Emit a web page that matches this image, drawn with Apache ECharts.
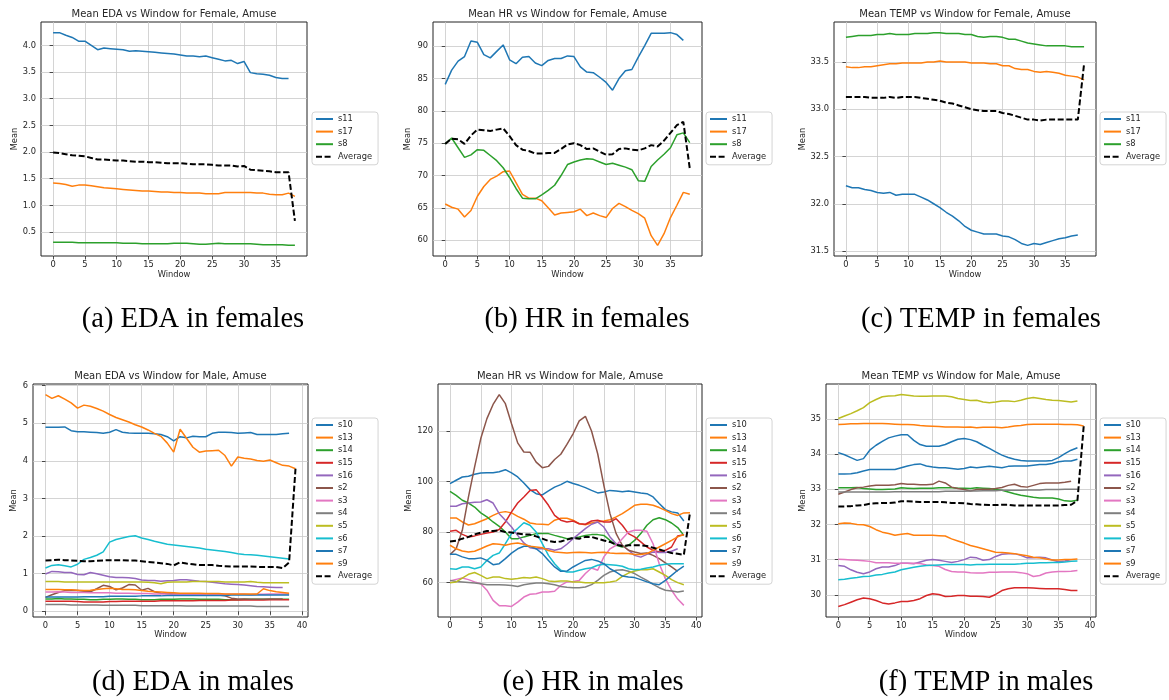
<!DOCTYPE html>
<html>
<head>
<meta charset="utf-8">
<title>Mean signal per window, Amuse condition</title>
<script src="https://cdn.jsdelivr.net/npm/echarts@6.0.0/dist/echarts.min.js"></script>
<style>
  html, body { margin: 0; padding: 0; background: #ffffff; }
  #chart { width: 1169px; height: 700px; }
</style>
</head>
<body>
<div id="chart"></div>
<script>
// ---------------- Subjects ----------------
const femaleNames = ['s11', 's17', 's8'];
const maleNames = ['s10', 's13', 's14', 's15', 's16', 's2', 's3', 's4', 's5', 's6', 's7', 's9'];

// ---------------- Female, EDA ----------------
const edaF_s11 = [4.24,4.24,4.19,4.15,4.08,4.08,4.00,3.92,3.95,3.94,3.93,3.92,3.89,3.90,3.89,3.88,3.87,3.86,3.85,3.84,3.82,3.80,3.80,3.79,3.80,3.77,3.74,3.71,3.72,3.66,3.70,3.49,3.47,3.46,3.44,3.40,3.38,3.38];
const edaF_s17 = [1.42,1.41,1.39,1.36,1.38,1.38,1.37,1.35,1.33,1.32,1.31,1.30,1.29,1.28,1.27,1.27,1.26,1.25,1.25,1.24,1.24,1.23,1.23,1.23,1.22,1.22,1.22,1.24,1.24,1.24,1.24,1.24,1.23,1.23,1.21,1.20,1.20,1.23,1.17];
const edaF_s8 = [0.31,0.31,0.31,0.31,0.30,0.30,0.30,0.30,0.30,0.30,0.30,0.29,0.29,0.29,0.28,0.28,0.28,0.28,0.28,0.29,0.29,0.29,0.28,0.27,0.27,0.28,0.29,0.28,0.28,0.28,0.28,0.28,0.27,0.26,0.26,0.26,0.26,0.25,0.25];
const edaF_avg = [1.99,1.98,1.96,1.94,1.93,1.92,1.89,1.86,1.86,1.85,1.84,1.84,1.83,1.82,1.82,1.81,1.81,1.80,1.79,1.79,1.79,1.78,1.77,1.77,1.77,1.76,1.75,1.75,1.75,1.73,1.74,1.67,1.66,1.65,1.64,1.62,1.62,1.62,0.71];

// ---------------- Female, HR ----------------
const hrF_s11 = [84.1,86.3,87.7,88.4,90.8,90.6,88.7,88.2,89.2,90.2,87.9,87.3,88.3,88.4,87.4,87.0,87.8,88.1,88.1,88.5,88.4,86.8,86.0,85.9,85.2,84.4,83.2,85.0,86.2,86.4,88.3,90.1,92.0,92.0,92.0,92.1,91.8,90.9];
const hrF_s17 = [65.6,65.1,64.8,63.6,64.6,66.8,68.3,69.4,69.9,70.6,70.7,68.9,67.1,66.5,66.5,66.1,65.0,63.9,64.2,64.3,64.4,64.8,63.8,64.2,63.8,63.5,64.9,65.7,65.2,64.6,64.1,63.4,60.7,59.2,61.0,63.5,65.4,67.4,67.1];
const hrF_s8 = [74.9,75.8,74.3,72.8,73.2,74.0,73.9,73.1,72.3,71.2,69.7,68.0,66.5,66.4,66.4,67.0,67.7,68.5,70.0,71.7,72.1,72.4,72.6,72.5,72.1,71.7,71.9,71.6,71.3,70.9,69.2,69.1,71.4,72.4,73.3,74.3,76.3,76.6,75.1];
const hrF_avg = [74.9,75.7,75.6,74.9,76.2,77.1,77.0,76.9,77.1,77.3,76.1,74.7,74.0,73.8,73.4,73.4,73.5,73.5,74.1,74.8,75.0,74.7,74.1,74.2,73.7,73.2,73.3,74.1,74.2,74.0,73.9,74.2,74.7,74.5,75.4,76.6,77.8,78.3,71.1];

// ---------------- Female, TEMP ----------------
const tempF_s11 = [32.19,32.17,32.17,32.15,32.14,32.12,32.11,32.12,32.09,32.10,32.10,32.10,32.07,32.04,32.00,31.96,31.91,31.87,31.82,31.76,31.72,31.70,31.68,31.68,31.68,31.66,31.65,31.62,31.58,31.56,31.58,31.57,31.59,31.61,31.63,31.64,31.66,31.67];
const tempF_s17 = [33.45,33.44,33.44,33.45,33.45,33.46,33.47,33.48,33.48,33.49,33.49,33.49,33.49,33.50,33.50,33.51,33.50,33.50,33.50,33.50,33.49,33.49,33.49,33.48,33.48,33.46,33.46,33.43,33.42,33.42,33.40,33.39,33.40,33.39,33.38,33.36,33.35,33.34,33.31];
const tempF_s8 = [33.76,33.77,33.78,33.78,33.78,33.79,33.79,33.80,33.79,33.79,33.79,33.80,33.80,33.80,33.81,33.81,33.80,33.80,33.80,33.79,33.79,33.77,33.76,33.77,33.77,33.76,33.74,33.74,33.72,33.70,33.69,33.68,33.67,33.67,33.67,33.67,33.66,33.66,33.66];
const tempF_avg = [33.13,33.13,33.13,33.13,33.12,33.12,33.12,33.13,33.12,33.13,33.13,33.13,33.12,33.11,33.10,33.09,33.07,33.06,33.04,33.02,33.00,32.99,32.98,32.98,32.98,32.96,32.95,32.93,32.91,32.89,32.89,32.88,32.89,32.89,32.89,32.89,32.89,32.89,33.48];

// ---------------- Male, EDA ----------------
const edaM_s10 = [4.89,4.89,4.89,4.90,4.80,4.77,4.77,4.76,4.75,4.73,4.76,4.83,4.76,4.74,4.73,4.73,4.73,4.72,4.70,4.64,4.53,4.64,4.61,4.65,4.64,4.64,4.73,4.76,4.76,4.75,4.73,4.74,4.75,4.70,4.70,4.70,4.70,4.72,4.73];
const edaM_s13 = [5.76,5.66,5.73,5.64,5.54,5.40,5.48,5.45,5.39,5.32,5.23,5.15,5.09,5.03,4.96,4.90,4.82,4.73,4.65,4.47,4.23,4.84,4.60,4.36,4.23,4.26,4.27,4.28,4.14,3.86,4.10,4.07,4.05,4.01,3.99,4.02,3.95,3.88,3.86,3.79];
const edaM_s14 = [0.33,0.33,0.34,0.33,0.33,0.32,0.32,0.31,0.31,0.32,0.32,0.33,0.33,0.32,0.32,0.31,0.31,0.31,0.32,0.32,0.32,0.33,0.33,0.33,0.32,0.32,0.32,0.32,0.31,0.31,0.31,0.32,0.32,0.32,0.32,0.32,0.32,0.32,0.32];
const edaM_s15 = [0.27,0.27,0.27,0.27,0.27,0.26,0.25,0.25,0.25,0.25,0.26,0.26,0.27,0.27,0.27,0.27,0.27,0.27,0.28,0.28,0.28,0.28,0.28,0.28,0.29,0.29,0.29,0.29,0.29,0.30,0.30,0.30,0.30,0.30,0.30,0.31,0.31,0.31,0.31];
const edaM_s16 = [0.99,1.06,1.05,1.03,1.03,0.98,0.97,1.03,1.00,0.96,0.92,0.90,0.90,0.89,0.87,0.83,0.82,0.82,0.80,0.81,0.82,0.84,0.84,0.82,0.80,0.79,0.77,0.75,0.73,0.72,0.71,0.70,0.68,0.66,0.65,0.64,0.63,0.63];
const edaM_s2 = [0.37,0.44,0.50,0.55,0.56,0.55,0.53,0.52,0.60,0.69,0.66,0.57,0.62,0.71,0.70,0.56,0.61,0.52,0.48,0.47,0.46,0.46,0.46,0.45,0.45,0.45,0.44,0.43,0.41,0.35,0.33,0.33,0.32,0.32,0.32,0.33,0.33,0.33];
const edaM_s3 = [0.51,0.51,0.52,0.51,0.50,0.50,0.50,0.49,0.49,0.49,0.49,0.48,0.48,0.48,0.47,0.47,0.47,0.46,0.46,0.46,0.45,0.45,0.45,0.46,0.45,0.45,0.44,0.45,0.45,0.45,0.45,0.45,0.44,0.45,0.45,0.46,0.46,0.46,0.46];
const edaM_s4 = [0.18,0.18,0.18,0.18,0.17,0.17,0.17,0.17,0.17,0.16,0.16,0.16,0.16,0.16,0.16,0.15,0.15,0.15,0.15,0.15,0.15,0.15,0.14,0.14,0.14,0.14,0.14,0.14,0.14,0.14,0.14,0.14,0.14,0.13,0.13,0.13,0.13,0.13,0.13];
const edaM_s5 = [0.79,0.79,0.79,0.78,0.78,0.78,0.78,0.78,0.78,0.78,0.78,0.78,0.78,0.78,0.78,0.78,0.77,0.76,0.73,0.77,0.78,0.78,0.78,0.79,0.79,0.79,0.79,0.79,0.78,0.78,0.78,0.78,0.79,0.77,0.76,0.76,0.76,0.76,0.76];
const edaM_s6 = [1.15,1.22,1.24,1.21,1.18,1.25,1.38,1.43,1.49,1.58,1.84,1.91,1.95,1.99,2.01,1.95,1.91,1.86,1.82,1.78,1.76,1.74,1.72,1.70,1.68,1.65,1.63,1.61,1.59,1.56,1.53,1.51,1.50,1.49,1.47,1.45,1.43,1.41,1.39];
const edaM_s7 = [0.38,0.38,0.38,0.38,0.38,0.38,0.39,0.39,0.39,0.39,0.40,0.40,0.40,0.40,0.40,0.41,0.41,0.41,0.41,0.42,0.42,0.42,0.42,0.42,0.42,0.42,0.42,0.42,0.42,0.43,0.43,0.43,0.43,0.43,0.43,0.43,0.43,0.43,0.43];
const edaM_s9 = [0.58,0.58,0.58,0.57,0.57,0.56,0.55,0.56,0.58,0.60,0.61,0.60,0.58,0.58,0.57,0.55,0.53,0.52,0.51,0.50,0.49,0.48,0.48,0.48,0.48,0.47,0.47,0.47,0.46,0.46,0.46,0.46,0.46,0.46,0.60,0.55,0.52,0.50,0.48];
const edaM_avg = [1.35,1.36,1.37,1.36,1.35,1.34,1.33,1.33,1.34,1.35,1.36,1.36,1.36,1.35,1.35,1.33,1.31,1.30,1.28,1.26,1.22,1.30,1.27,1.25,1.23,1.23,1.23,1.21,1.20,1.19,1.19,1.19,1.19,1.18,1.18,1.18,1.18,1.15,1.30,3.79];

// ---------------- Male, HR ----------------
const hrM_s10 = [99.2,100.5,101.8,102.1,102.9,103.4,103.5,103.5,103.9,104.7,103.4,101.8,99.4,96.8,95.2,94.7,96.3,97.8,98.8,100.1,99.2,98.5,97.6,96.5,95.5,95.9,96.5,96.3,96.0,96.3,95.9,95.5,95.2,93.9,91.3,88.9,88.0,87.6,84.4];
const hrM_s13 = [85.6,85.6,84.0,82.8,83.3,84.3,85.3,86.6,87.7,88.1,87.6,86.2,85.1,83.6,83.2,83.1,82.9,84.7,85.5,85.5,84.7,83.3,82.9,83.6,84.0,84.4,84.9,86.0,87.3,88.9,90.6,91.0,91.0,90.6,89.7,88.6,87.3,86.6,87.6,87.7];
const hrM_s14 = [96.1,94.5,92.6,91.5,89.9,87.6,86.0,84.0,82.3,80.0,77.4,77.4,78.1,78.7,79.4,79.4,79.4,78.7,78.1,77.4,77.7,78.1,78.7,79.0,79.0,78.7,76.7,74.8,74.1,74.8,76.7,79.4,82.7,84.9,85.7,84.9,83.6,81.8,78.7];
const hrM_s15 = [80.3,80.7,79.1,78.1,78.5,79.1,79.6,80.0,81.0,84.0,88.0,91.5,93.9,96.5,96.8,93.9,90.6,86.6,84.7,84.0,84.4,83.3,83.1,84.4,84.7,84.0,84.0,85.3,82.7,79.4,78.1,76.1,74.1,72.8,72.1,72.8,74.1,78.5,79.0];
const hrM_s16 = [90.2,90.2,91.2,91.5,91.8,91.9,92.8,91.5,87.3,84.7,82.0,78.7,75.7,73.8,73.4,73.4,73.4,72.8,73.4,75.2,77.4,79.4,81.4,83.1,84.0,82.0,78.1,75.4,74.8,72.8,70.8,70.1,71.2,72.1,71.9,71.9,72.4,73.4];
const hrM_s2 = [71.1,73.4,80.7,93.9,105.8,117.0,124.9,130.5,134.4,130.8,122.9,115.3,111.7,111.6,107.7,105.5,106.0,108.7,110.8,114.7,118.9,124.0,125.8,120.0,111.0,98.5,87.3,79.4,74.8,72.8,72.1,71.5,71.7,70.8,69.5,67.8,66.2,64.5];
const hrM_s3 = [60.7,61.3,61.8,61.2,60.3,59.6,57.0,53.0,50.9,50.9,50.6,52.3,54.3,55.4,55.6,56.3,56.3,56.6,58.9,60.3,60.5,60.9,63.6,65.8,64.9,70.2,73.4,74.8,77.4,80.0,80.7,80.7,80.3,75.4,67.5,61.6,57.0,53.5,51.0];
const hrM_s4 = [60.9,60.5,60.3,60.1,59.9,59.6,59.2,59.2,59.2,59.1,58.9,58.5,59.2,59.6,59.9,59.9,59.6,59.2,58.5,58.2,58.0,58.0,58.3,59.2,60.9,62.9,64.2,64.9,65.1,64.5,63.6,62.2,60.9,59.3,58.0,57.0,56.7,56.3,56.7];
const hrM_s5 = [60.0,60.3,61.8,63.3,64.0,62.9,61.6,62.2,62.2,61.6,61.3,61.6,62.0,61.8,62.2,61.6,60.7,60.5,60.7,60.7,60.3,60.3,60.0,60.0,60.0,60.0,60.3,60.7,62.5,63.8,64.6,65.1,65.1,65.5,64.2,62.9,61.2,60.0,59.2];
const hrM_s6 = [65.5,65.3,66.2,66.2,65.5,66.2,68.8,70.8,71.7,75.4,79.4,81.4,83.7,82.7,80.0,75.4,70.8,67.5,64.9,64.2,64.2,64.9,65.5,65.9,66.9,67.3,67.1,66.9,66.5,65.5,65.1,65.3,65.8,66.2,66.9,67.3,67.5,67.5,67.5];
const hrM_s7 = [71.2,71.2,70.2,69.5,69.5,69.8,68.8,67.1,67.5,69.5,71.7,73.4,74.4,74.4,73.4,71.5,68.8,66.2,64.5,64.6,66.2,67.5,68.8,69.2,68.6,67.5,65.5,64.2,62.6,62.2,62.0,61.2,60.3,59.6,59.2,60.9,62.9,64.9,66.5];
const hrM_s9 = [74.8,73.4,72.5,72.1,72.4,73.4,74.5,75.4,75.2,74.8,75.4,75.7,75.2,74.4,74.1,73.8,72.7,72.1,71.9,71.7,71.9,72.0,71.9,71.7,71.9,72.0,71.7,71.5,71.6,71.5,71.1,71.1,71.5,72.8,74.1,75.4,76.7,78.1,79.0];
const hrM_avg = [76.3,76.6,77.4,78.1,79.1,79.8,80.4,80.4,80.7,80.0,79.8,79.4,79.1,79.0,78.3,77.4,76.5,76.1,76.3,77.0,77.7,77.4,78.1,78.1,77.4,76.7,76.1,75.0,74.5,74.8,74.8,74.8,74.5,73.8,73.1,72.4,71.7,71.4,71.0,87.7];

// ---------------- Male, TEMP ----------------
const tempM_s10 = [34.04,33.98,33.90,33.82,33.87,34.11,34.25,34.36,34.46,34.51,34.55,34.55,34.39,34.27,34.22,34.22,34.22,34.27,34.35,34.42,34.44,34.41,34.35,34.25,34.16,34.06,33.97,33.90,33.85,33.82,33.80,33.80,33.80,33.80,33.82,33.90,34.01,34.11,34.18];
const tempM_s13 = [34.84,34.85,34.86,34.86,34.87,34.87,34.87,34.87,34.86,34.85,34.84,34.84,34.83,34.81,34.80,34.79,34.78,34.77,34.77,34.77,34.76,34.77,34.75,34.76,34.76,34.76,34.75,34.77,34.80,34.81,34.84,34.85,34.85,34.85,34.85,34.85,34.84,34.84,34.83,34.80];
const tempM_s14 = [33.04,33.04,33.04,33.05,33.02,33.01,32.99,32.99,33.00,33.01,33.04,33.03,33.02,33.03,33.03,33.03,33.04,33.04,33.04,33.03,33.03,33.02,33.04,33.03,33.02,32.99,32.97,32.92,32.87,32.83,32.80,32.77,32.75,32.75,32.75,32.72,32.67,32.66,32.69];
const tempM_s15 = [29.67,29.72,29.79,29.86,29.91,29.89,29.84,29.77,29.74,29.77,29.81,29.81,29.84,29.89,29.98,30.03,30.01,29.95,29.96,29.98,29.98,29.96,29.96,29.95,29.93,30.01,30.12,30.17,30.20,30.20,30.20,30.19,30.18,30.17,30.17,30.17,30.15,30.12,30.12];
const tempM_s16 = [30.83,30.81,30.71,30.64,30.60,30.65,30.74,30.79,30.79,30.83,30.90,30.90,30.88,30.93,30.98,31.00,30.98,30.95,30.92,30.95,31.00,31.07,31.05,30.98,31.00,31.09,31.15,31.17,31.17,31.12,31.05,31.05,31.07,31.05,30.99,30.94,30.96,31.00];
const tempM_s2 = [32.86,32.92,32.99,33.04,33.06,33.09,33.11,33.11,33.11,33.13,33.16,33.14,33.14,33.13,33.13,33.14,33.23,33.18,33.06,33.02,32.99,32.95,32.99,33.00,33.00,33.02,33.05,33.11,33.14,33.08,33.06,33.11,33.16,33.18,33.18,33.18,33.20,33.23];
const tempM_s3 = [31.01,31.00,30.99,30.98,30.97,30.95,30.91,30.91,30.91,30.90,30.90,30.90,30.90,30.89,30.85,30.83,30.81,30.72,30.66,30.65,30.65,30.63,30.62,30.62,30.64,30.64,30.65,30.65,30.65,30.63,30.60,30.52,30.55,30.62,30.65,30.66,30.66,30.67,30.69];
const tempM_s4 = [32.92,32.92,32.92,32.92,32.92,32.92,32.92,32.92,32.92,32.93,32.93,32.93,32.93,32.93,32.93,32.93,32.93,32.94,32.94,32.94,32.94,32.95,32.95,32.96,32.96,32.96,32.97,32.97,32.97,32.97,32.98,32.98,32.98,32.99,32.99,32.99,33.00,33.00,33.00];
const tempM_s5 = [35.01,35.08,35.15,35.23,35.32,35.46,35.55,35.63,35.65,35.66,35.69,35.67,35.65,35.64,35.64,35.65,35.65,35.65,35.63,35.58,35.55,35.52,35.53,35.48,35.46,35.48,35.51,35.51,35.49,35.53,35.58,35.61,35.58,35.55,35.53,35.52,35.50,35.48,35.51];
const tempM_s6 = [30.43,30.44,30.47,30.49,30.52,30.53,30.56,30.58,30.62,30.65,30.71,30.75,30.78,30.81,30.83,30.84,30.85,30.86,30.86,30.86,30.86,30.85,30.86,30.86,30.87,30.87,30.87,30.87,30.87,30.88,30.90,30.90,30.91,30.91,30.92,30.92,30.93,30.95,30.96];
const tempM_s7 = [33.43,33.43,33.44,33.47,33.52,33.56,33.56,33.56,33.56,33.56,33.61,33.66,33.70,33.72,33.66,33.63,33.61,33.61,33.59,33.57,33.59,33.63,33.61,33.63,33.65,33.63,33.61,33.65,33.66,33.66,33.66,33.68,33.70,33.70,33.73,33.78,33.80,33.80,33.85];
const tempM_s9 = [32.02,32.04,32.03,32.00,31.99,31.94,31.85,31.78,31.74,31.69,31.72,31.74,31.69,31.69,31.69,31.69,31.68,31.67,31.59,31.53,31.47,31.40,31.36,31.31,31.26,31.21,31.20,31.19,31.17,31.14,31.11,31.07,31.05,31.02,30.99,30.99,31.00,31.00,31.02];
const tempM_avg = [32.51,32.51,32.52,32.54,32.55,32.59,32.60,32.61,32.61,32.62,32.66,32.66,32.65,32.64,32.64,32.64,32.64,32.63,32.61,32.61,32.60,32.58,32.57,32.56,32.55,32.55,32.56,32.56,32.54,32.54,32.54,32.54,32.54,32.54,32.54,32.54,32.55,32.56,32.68,34.80];

// ---------------- Tick labels ----------------
const xTicksFemale = [0, 5, 10, 15, 20, 25, 30, 35];
const xTicksMale = [0, 5, 10, 15, 20, 25, 30, 35, 40];
const yTicksEdaF = [0.5, 1.0, 1.5, 2.0, 2.5, 3.0, 3.5, 4.0];
const yTicksHrF = [60, 65, 70, 75, 80, 85, 90];
const yTicksTempF = [31.5, 32.0, 32.5, 33.0, 33.5];
const yTicksEdaM = [0, 1, 2, 3, 4, 5, 6];
const yTicksHrM = [60, 80, 100, 120];
const yTicksTempM = [30, 31, 32, 33, 34, 35];

// ---------------- Panel content ----------------
const panels = [
  { title: 'Mean EDA vs Window for Female, Amuse', caption: '(a) EDA in females', names: femaleNames,
    values: [edaF_s11, edaF_s17, edaF_s8], avg: edaF_avg, xTicks: xTicksFemale, yTicks: yTicksEdaF, decimals: 1 },
  { title: 'Mean HR vs Window for Female, Amuse', caption: '(b) HR in females', names: femaleNames,
    values: [hrF_s11, hrF_s17, hrF_s8], avg: hrF_avg, xTicks: xTicksFemale, yTicks: yTicksHrF, decimals: 0 },
  { title: 'Mean TEMP vs Window for Female, Amuse', caption: '(c) TEMP in females', names: femaleNames,
    values: [tempF_s11, tempF_s17, tempF_s8], avg: tempF_avg, xTicks: xTicksFemale, yTicks: yTicksTempF, decimals: 1 },
  { title: 'Mean EDA vs Window for Male, Amuse', caption: '(d) EDA in males', names: maleNames,
    values: [edaM_s10, edaM_s13, edaM_s14, edaM_s15, edaM_s16, edaM_s2, edaM_s3, edaM_s4, edaM_s5, edaM_s6, edaM_s7, edaM_s9],
    avg: edaM_avg, xTicks: xTicksMale, yTicks: yTicksEdaM, decimals: 0 },
  { title: 'Mean HR vs Window for Male, Amuse', caption: '(e) HR in males', names: maleNames,
    values: [hrM_s10, hrM_s13, hrM_s14, hrM_s15, hrM_s16, hrM_s2, hrM_s3, hrM_s4, hrM_s5, hrM_s6, hrM_s7, hrM_s9],
    avg: hrM_avg, xTicks: xTicksMale, yTicks: yTicksHrM, decimals: 0 },
  { title: 'Mean TEMP vs Window for Male, Amuse', caption: '(f) TEMP in males', names: maleNames,
    values: [tempM_s10, tempM_s13, tempM_s14, tempM_s15, tempM_s16, tempM_s2, tempM_s3, tempM_s4, tempM_s5, tempM_s6, tempM_s7, tempM_s9],
    avg: tempM_avg, xTicks: xTicksMale, yTicks: yTicksTempM, decimals: 0 }
];

// ---------------- Layout (pixels) ----------------
const frames = [
  { left: 41,  top: 22,  width: 266, height: 234, legendLeft: 312,  legendTop: 112, yNameGap: 22, titleY: 14,  captionX: 193, captionY: 320 },
  { left: 433, top: 22,  width: 269, height: 234, legendLeft: 706,  legendTop: 112, yNameGap: 21, titleY: 14,  captionX: 587, captionY: 320 },
  { left: 834, top: 22,  width: 262, height: 234, legendLeft: 1100, legendTop: 112, yNameGap: 27, titleY: 14,  captionX: 981, captionY: 320 },
  { left: 33,  top: 384, width: 275, height: 233, legendLeft: 312,  legendTop: 418, yNameGap: 15, titleY: 376, captionX: 193, captionY: 683 },
  { left: 438, top: 384, width: 264, height: 233, legendLeft: 706,  legendTop: 418, yNameGap: 21, titleY: 376, captionX: 593, captionY: 683 },
  { left: 826, top: 384, width: 270, height: 233, legendLeft: 1100, legendTop: 418, yNameGap: 19, titleY: 376, captionX: 986, captionY: 683 }
];

const tab10 = ['#1f77b4', '#ff7f0e', '#2ca02c', '#d62728', '#9467bd', '#8c564b', '#e377c2', '#7f7f7f', '#bcbd22', '#17becf'];
const sansFont = '"DejaVu Sans", sans-serif';
const textColor = '#262626';
const gridColor = '#c9c9c9';
const tickFontSize = 8.3;

// Axis range with a 5% margin on each side of the data
function paddedRange(arrays, useIndex) {
  let lo = Infinity, hi = -Infinity;
  arrays.forEach(function (arr) {
    arr.forEach(function (v, i) {
      const x = useIndex ? i : v;
      if (x < lo) lo = x;
      if (x > hi) hi = x;
    });
  });
  const pad = (hi - lo) * 0.05;
  return [lo - pad, hi + pad];
}

const grid = [], xAxis = [], yAxis = [], series = [], legend = [], graphic = [];

panels.forEach(function (p, k) {
  const f = frames[k];
  const all = p.values.concat([p.avg]);
  const xr = paddedRange(all, true);
  const yr = paddedRange(all, false);

  grid.push({
    left: f.left, top: f.top, width: f.width, height: f.height,
    show: true, borderColor: '#222', borderWidth: 1, backgroundColor: 'transparent',
    containLabel: false, outerBoundsMode: 'none'
  });

  xAxis.push({
    type: 'value', gridIndex: k, min: xr[0], max: xr[1],
    name: 'Window', nameLocation: 'middle', nameGap: k < 3 ? 15 : 14,
    nameTextStyle: { fontFamily: sansFont, fontSize: tickFontSize, color: textColor },
    axisLine: { show: false },
    axisTick: { show: true, inside: false, length: 3.5, customValues: p.xTicks, lineStyle: { color: '#222', width: 0.8 } },
    axisLabel: { customValues: p.xTicks, margin: 5, fontFamily: sansFont, fontSize: tickFontSize, color: textColor,
                 formatter: function (v) { return String(Math.round(v)); } },
    splitLine: { show: true, lineStyle: { color: gridColor, width: 0.8 } }
  });

  yAxis.push({
    type: 'value', gridIndex: k, min: yr[0], max: yr[1],
    name: 'Mean', nameLocation: 'middle', nameGap: f.yNameGap, nameRotate: 90,
    nameTextStyle: { fontFamily: sansFont, fontSize: tickFontSize, color: textColor },
    axisLine: { show: false },
    axisTick: { show: true, inside: false, length: 3.5, customValues: p.yTicks, lineStyle: { color: '#222', width: 0.8 } },
    axisLabel: { customValues: p.yTicks, margin: 5, fontFamily: sansFont, fontSize: tickFontSize, color: textColor,
                 formatter: function (v) { return Number(v).toFixed(p.decimals); } },
    splitLine: { show: true, lineStyle: { color: gridColor, width: 0.8 } }
  });

  p.names.forEach(function (name, j) {
    series.push({
      type: 'line', name: name, xAxisIndex: k, yAxisIndex: k,
      data: p.values[j].map(function (v, i) { return [i, v]; }),
      symbol: 'none', showSymbol: false, smooth: false, clip: true,
      color: tab10[j % tab10.length],
      lineStyle: { width: 1.5, color: tab10[j % tab10.length] },
      emphasis: { disabled: true }, silent: true, z: 2
    });
  });
  series.push({
    type: 'line', name: 'Average', xAxisIndex: k, yAxisIndex: k,
    data: p.avg.map(function (v, i) { return [i, v]; }),
    symbol: 'none', showSymbol: false, smooth: false, clip: true,
    color: '#000000',
    lineStyle: { width: 2, color: '#000000', type: [6, 2.6] },
    emphasis: { disabled: true }, silent: true, z: 3
  });

  legend.push({
    orient: 'vertical', left: f.legendLeft, top: f.legendTop,
    data: p.names.concat(['Average']),
    selectedMode: false,
    itemWidth: 17, itemHeight: 8, itemGap: 4.6,
    padding: [3, 6, 4, 3],
    borderColor: '#d4d4d4', borderWidth: 1, borderRadius: 3,
    backgroundColor: 'rgba(255,255,255,0.8)',
    itemStyle: { opacity: 0, borderWidth: 0 },
    textStyle: { fontFamily: sansFont, fontSize: tickFontSize, color: textColor, lineHeight: 8 }
  });

  graphic.push({
    type: 'text', x: f.left + f.width / 2, y: f.titleY, silent: true,
    style: { text: p.title, fill: textColor, font: '10px ' + sansFont,
             align: 'center', verticalAlign: 'middle', textAlign: 'center', textVerticalAlign: 'middle' }
  });
  graphic.push({
    type: 'text', x: f.captionX, y: f.captionY, silent: true,
    style: { text: p.caption, fill: '#000000', font: '28.5px "Liberation Serif", serif',
             align: 'center', verticalAlign: 'middle', textAlign: 'center', textVerticalAlign: 'middle' }
  });
});

const chart = echarts.init(document.getElementById('chart'), null, { renderer: 'canvas' });
chart.setOption({
  animation: false,
  backgroundColor: '#ffffff',
  grid: grid,
  xAxis: xAxis,
  yAxis: yAxis,
  legend: legend,
  series: series,
  graphic: graphic
});
</script>
</body>
</html>
